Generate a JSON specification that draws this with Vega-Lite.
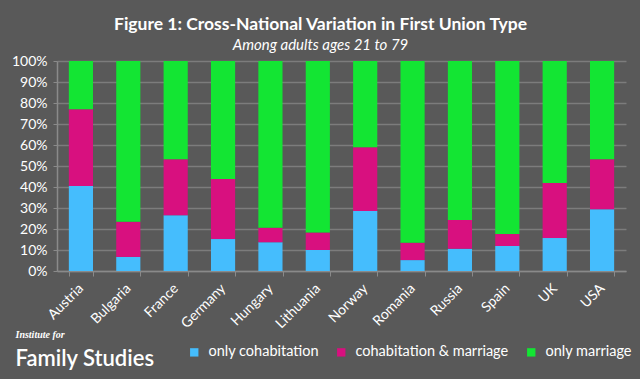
{
  "$schema": "https://vega.github.io/schema/vega-lite/v6.json",
  "autosize": "none",
  "width": 569,
  "height": 210,
  "padding": {"left": 57, "top": 61, "right": 14, "bottom": 108},
  "background": "#595959",
  "title": {
    "text": "Figure 1: Cross-National Variation in First Union Type",
    "subtitle": "Among adults ages 21 to 79",
    "anchor": "middle",
    "dx": -21,
    "offset": 1,
    "font": "Lato",
    "fontSize": 17.5,
    "fontWeight": "bold",
    "color": "#ffffff",
    "subtitleFont": "Lato",
    "subtitleFontSize": 15,
    "subtitleFontStyle": "italic",
    "subtitleColor": "#ffffff",
    "subtitlePadding": 5
  },
  "data": {
    "values": [
      {"country": "Austria", "type": "only cohabitation", "value": 40.5},
      {"country": "Austria", "type": "cohabitation & marriage", "value": 36.5},
      {"country": "Austria", "type": "only marriage", "value": 23.0},
      {"country": "Bulgaria", "type": "only cohabitation", "value": 6.7},
      {"country": "Bulgaria", "type": "cohabitation & marriage", "value": 16.8},
      {"country": "Bulgaria", "type": "only marriage", "value": 76.5},
      {"country": "France", "type": "only cohabitation", "value": 26.5},
      {"country": "France", "type": "cohabitation & marriage", "value": 26.7},
      {"country": "France", "type": "only marriage", "value": 46.8},
      {"country": "Germany", "type": "only cohabitation", "value": 15.2},
      {"country": "Germany", "type": "cohabitation & marriage", "value": 28.6},
      {"country": "Germany", "type": "only marriage", "value": 56.2},
      {"country": "Hungary", "type": "only cohabitation", "value": 13.7},
      {"country": "Hungary", "type": "cohabitation & marriage", "value": 6.9},
      {"country": "Hungary", "type": "only marriage", "value": 79.4},
      {"country": "Lithuania", "type": "only cohabitation", "value": 10.0},
      {"country": "Lithuania", "type": "cohabitation & marriage", "value": 8.3},
      {"country": "Lithuania", "type": "only marriage", "value": 81.7},
      {"country": "Norway", "type": "only cohabitation", "value": 28.6},
      {"country": "Norway", "type": "cohabitation & marriage", "value": 30.3},
      {"country": "Norway", "type": "only marriage", "value": 41.1},
      {"country": "Romania", "type": "only cohabitation", "value": 5.2},
      {"country": "Romania", "type": "cohabitation & marriage", "value": 8.3},
      {"country": "Romania", "type": "only marriage", "value": 86.5},
      {"country": "Russia", "type": "only cohabitation", "value": 10.6},
      {"country": "Russia", "type": "cohabitation & marriage", "value": 13.7},
      {"country": "Russia", "type": "only marriage", "value": 75.7},
      {"country": "Spain", "type": "only cohabitation", "value": 11.9},
      {"country": "Spain", "type": "cohabitation & marriage", "value": 5.7},
      {"country": "Spain", "type": "only marriage", "value": 82.4},
      {"country": "UK", "type": "only cohabitation", "value": 15.7},
      {"country": "UK", "type": "cohabitation & marriage", "value": 26.2},
      {"country": "UK", "type": "only marriage", "value": 58.1},
      {"country": "USA", "type": "only cohabitation", "value": 29.4},
      {"country": "USA", "type": "cohabitation & marriage", "value": 23.8},
      {"country": "USA", "type": "only marriage", "value": 46.8}
    ]
  },
  "transform": [
    {"calculate": "indexof(['only cohabitation','cohabitation & marriage','only marriage'], datum.type)", "as": "stackOrder"}
  ],
  "mark": {"type": "bar"},
  "encoding": {
    "x": {
      "field": "country",
      "type": "nominal",
      "sort": null,
      "scale": {"paddingInner": 0.49, "paddingOuter": 0.25},
      "axis": {
        "title": "Family Studies",
        "titleX": -42,
        "titleY": 94,
        "titleAlign": "left",
        "titleAnchor": "start",
        "titleBaseline": "alphabetic",
        "titleFont": "Lato",
        "titleFontSize": 22,
        "titleFontWeight": 600,
        "titleColor": "#ffffff",
        "labelAngle": -45,
        "labelAlign": "right",
        "labelBaseline": "middle",
        "labelFont": "Lato",
        "labelFontSize": 14,
        "labelColor": "#ffffff",
        "labelPadding": 10,
        "tickBand": "extent",
        "tickColor": "#8a8a8a",
        "tickSize": 5,
        "domainColor": "#8a8a8a",
        "domainWidth": 1.5
      }
    },
    "y": {
      "field": "value",
      "type": "quantitative",
      "stack": "normalize",
      "scale": {"domain": [0, 1]},
      "axis": {
        "title": "Institute for",
        "titleX": -42,
        "titleY": 276,
        "titleAngle": 0,
        "titleAlign": "left",
        "titleBaseline": "alphabetic",
        "titleFont": "Liberation Serif",
        "titleFontSize": 10,
        "titleFontStyle": "italic",
        "titleFontWeight": "bold",
        "titleColor": "#ffffff",
        "format": ".0%",
        "values": [0, 0.1, 0.2, 0.3, 0.4, 0.5, 0.6, 0.7, 0.8, 0.9, 1],
        "labelOverlap": false,
        "labelFont": "Lato",
        "labelFontSize": 14,
        "labelColor": "#ffffff",
        "labelPadding": 6,
        "grid": true,
        "gridColor": "#7c7c7c",
        "gridWidth": 1.5,
        "tickColor": "#8a8a8a",
        "tickSize": 4,
        "domainColor": "#8a8a8a",
        "domainWidth": 1.5
      }
    },
    "color": {
      "field": "type",
      "type": "nominal",
      "scale": {
        "domain": ["only cohabitation", "cohabitation & marriage", "only marriage"],
        "range": ["#45bdfd", "#d8107f", "#13e533"]
      },
      "legend": {
        "title": null,
        "orient": "none",
        "direction": "horizontal",
        "legendX": 130,
        "legendY": 284,
        "symbolType": "square",
        "symbolSize": 70,
        "symbolStrokeWidth": 0,
        "labelFont": "Lato",
        "labelFontSize": 14.5,
        "labelColor": "#ffffff",
        "labelOffset": 7,
        "columnPadding": 15
      }
    },
    "order": {"field": "stackOrder", "type": "quantitative", "sort": "ascending"}
  },
  "config": {
    "view": {"stroke": null}
  }
}
